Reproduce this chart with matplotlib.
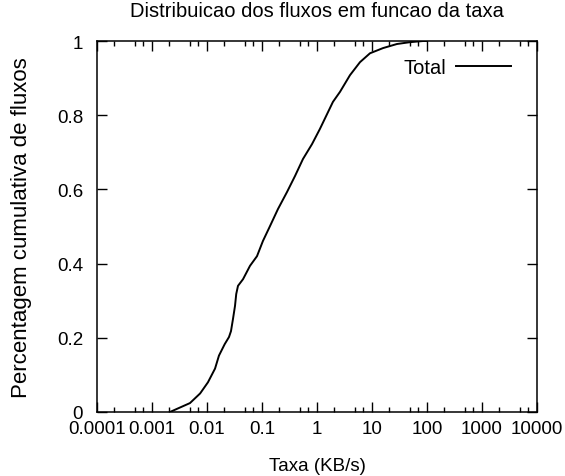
import matplotlib
matplotlib.use('Agg')
import matplotlib.pyplot as plt
from matplotlib.ticker import LogLocator, FixedLocator, NullFormatter

plt.rcParams['font.family'] = ['Liberation Sans', 'DejaVu Sans']

# CDF da taxa (KB/s)
taxa = [0.00212, 0.0049, 0.0075, 0.0104, 0.0140, 0.0165, 0.0210, 0.0251,
        0.0273, 0.0297, 0.0323, 0.0340, 0.0366, 0.0452, 0.0605, 0.0811,
        0.104, 0.1397, 0.195, 0.285, 0.398, 0.556, 0.811, 1.13, 1.95,
        2.62, 3.98, 6.05, 9.2, 15.9, 28.5, 49.6, 84.5, 100.0]
cdf = [0.0, 0.024, 0.050, 0.080, 0.117, 0.152, 0.183, 0.202,
       0.218, 0.251, 0.286, 0.318, 0.340, 0.358, 0.394, 0.420,
       0.461, 0.501, 0.547, 0.593, 0.636, 0.682, 0.722, 0.763, 0.836,
       0.863, 0.908, 0.943, 0.967, 0.981, 0.992, 0.997, 1.0, 1.0]

xticks = [0.0001, 0.001, 0.01, 0.1, 1, 10, 100, 1000, 10000]
xlabels = ['0.0001', '0.001', '0.01', '0.1', '1', '10', '100', '1000', '10000']
yticks = [0, 0.2, 0.4, 0.6, 0.8, 1]
ylabels = ['0', '0.2', '0.4', '0.6', '0.8', '1']

fig = plt.figure(figsize=(5.65, 4.77), dpi=100)
ax = fig.add_axes([0.1717, 0.1342, 0.9504 - 0.1717, 0.9119 - 0.1342])

ax.plot(taxa, cdf, color='black', lw=1.4, label='Total')

ax.set_xscale('log')
ax.set_xlim(0.0001, 10000)
ax.set_ylim(0, 1)
ax.xaxis.set_major_locator(FixedLocator(xticks))
ax.set_xticklabels(xlabels)
ax.xaxis.set_minor_locator(LogLocator(base=10, subs=(2, 5, 7), numticks=30))
ax.xaxis.set_minor_formatter(NullFormatter())
ax.set_yticks(yticks)
ax.set_yticklabels(ylabels)

ax.tick_params(which='major', direction='in', length=7, width=1,
               top=True, right=True, labelsize=13.5)
ax.tick_params(axis='x', which='major', pad=6)
ax.tick_params(axis='y', which='major', pad=10)
ax.tick_params(which='minor', direction='in', length=3.5, width=1,
               top=True, right=True)
for s in ax.spines.values():
    s.set_linewidth(1.1)

ax.set_title('Distribuicao dos fluxos em funcao da taxa', fontsize=14.5, pad=18)
ax.set_xlabel('Taxa (KB/s)', fontsize=13.5, labelpad=14)
ax.set_ylabel('Percentagem cumulativa de fluxos', fontsize=16, labelpad=18)

leg = ax.legend(loc='upper right', bbox_to_anchor=(1.0, 1.026), frameon=False,
                fontsize=14.5, markerfirst=False, handlelength=2.7,
                handletextpad=0.5, borderaxespad=0.9, borderpad=0.4)

fig.savefig('out.png', dpi=100)
